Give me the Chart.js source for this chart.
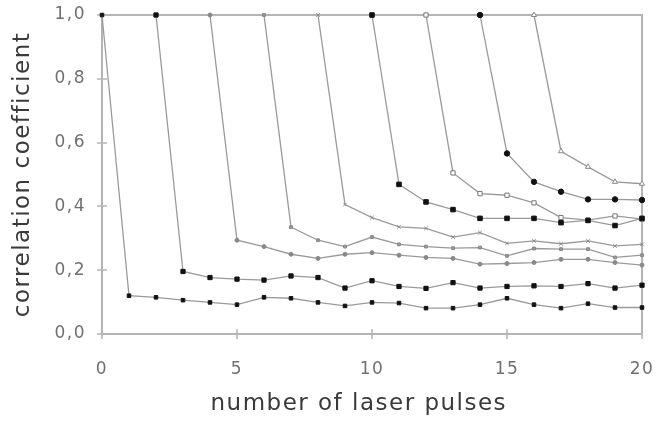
<!DOCTYPE html>
<html>
<head>
<meta charset="utf-8">
<script src="https://cdn.jsdelivr.net/npm/chart.js@4"></script>
<style>
  body { margin: 0; background: #fff; }
  #chart { display: block; }
</style>
</head>
<body>
<canvas id="chart" width="656" height="422"></canvas>
<script>
// x positions (number of laser pulses)
const pulses = [0, 1, 2, 3, 4, 5, 6, 7, 8, 9, 10, 11, 12, 13, 14, 15, 16, 17, 18, 19, 20];
const xTicks = [0, 5, 10, 15, 20];
const yTicks = [0, 0.2, 0.4, 0.6, 0.8, 1.0];

// each series starts at 1,0 at its own pulse number
const starts = [0, 2, 4, 6, 8, 10, 12, 14, 16];
const s0 = [1.0, 0.12, 0.115, 0.106, 0.099, 0.092, 0.115, 0.112, 0.099, 0.088, 0.099, 0.097, 0.081, 0.081, 0.092, 0.112, 0.092, 0.081, 0.095, 0.083, 0.083];
const s1 = [1.0, 0.196, 0.177, 0.172, 0.169, 0.182, 0.177, 0.144, 0.167, 0.149, 0.143, 0.161, 0.144, 0.149, 0.151, 0.149, 0.158, 0.144, 0.153];
const s2 = [1.0, 0.294, 0.274, 0.25, 0.237, 0.25, 0.255, 0.247, 0.24, 0.237, 0.219, 0.221, 0.224, 0.234, 0.234, 0.224, 0.216];
const s3 = [1.0, 0.335, 0.294, 0.274, 0.304, 0.281, 0.274, 0.269, 0.271, 0.245, 0.268, 0.266, 0.266, 0.24, 0.247];
const s4 = [1.0, 0.406, 0.365, 0.336, 0.331, 0.304, 0.318, 0.284, 0.292, 0.283, 0.292, 0.276, 0.281];
const s5 = [1.0, 0.469, 0.414, 0.39, 0.3625, 0.3625, 0.3625, 0.349, 0.356, 0.34, 0.3625];
const s6 = [1.0, 0.505, 0.44, 0.435, 0.411, 0.365, 0.357, 0.37, 0.36];
const s7 = [1.0, 0.566, 0.477, 0.446, 0.422, 0.422, 0.42];
const s8 = [1.0, 0.573, 0.524, 0.477, 0.471];

const series = [s0, s1, s2, s3, s4, s5, s6, s7, s8];

// marker look per series
const markers = [
    { style: "rect", r: 2.5, fill: "#111", border: "#111" },
    { style: "rect", r: 3, fill: "#111", border: "#111" },
    { style: "circle", r: 2, fill: "#888", border: "#888" },
    { style: "rect", r: 2, fill: "#999", border: "#888" },
    { style: "crossRot", r: 2.5, fill: "#888", border: "#888" },
    { style: "rect", r: 3.2, fill: "#111", border: "#111" },
    { style: "rect", r: 3, fill: "#fff", border: "#777" },
    { style: "circle", r: 2.7, fill: "#111", border: "#111" },
    { style: "triangle", r: 3, fill: "#fff", border: "#888" },
];

const datasets = series.map((vals, i) => ({
    data: vals.map((v, k) => ({ x: pulses[starts[i] + k], y: v })),
    borderColor: "#9a9a9a",
    borderWidth: 1.3,
    pointStyle: markers[i].style,
    pointRadius: markers[i].r,
    pointBackgroundColor: markers[i].fill,
    pointBorderColor: markers[i].border,
    pointBorderWidth: 1,
    tension: 0,
    clip: 4,
}));

// wider text, like the original's font
const spacingPlugin = {
    id: "spacing",
    beforeDraw(chart) {
        chart.ctx.letterSpacing = "1.5px";
    },
};

// frame and ticks crossing the axis lines
const framePlugin = {
    id: "frame",
    beforeDatasetsDraw(chart) {
        const { ctx, chartArea: a, scales } = chart;
        ctx.save();
        ctx.strokeStyle = "#b4b4b4";
        ctx.lineWidth = 2;
        ctx.strokeRect(a.left, a.top, a.right - a.left, a.bottom - a.top);
        ctx.lineWidth = 1.5;
        ctx.beginPath();
        xTicks.forEach((t) => {
            const px = Math.round(scales.x.getPixelForValue(t));
            ctx.moveTo(px, a.bottom - 5);
            ctx.lineTo(px, a.bottom + 5);
        });
        yTicks.forEach((t) => {
            const py = Math.round(scales.y.getPixelForValue(t));
            ctx.moveTo(a.left - 5, py);
            ctx.lineTo(a.left + 5, py);
        });
        ctx.stroke();
        ctx.restore();
    },
};

const fmt = (v) => v.toFixed(1).replace(".", ",");

new Chart(document.querySelector("#chart").getContext("2d"), {
    type: "line",
    data: { datasets },
    plugins: [spacingPlugin, framePlugin],
    options: {
        responsive: false,
        animation: false,
        layout: { padding: { top: 15, right: 14, left: 0, bottom: 0 } },
        plugins: { legend: { display: false }, tooltip: { enabled: false } },
        scales: {
            x: {
                type: "linear",
                min: 0,
                max: 20,
                border: { display: false },
                grid: { display: false, drawTicks: false },
                afterBuildTicks: (s) => { s.ticks = xTicks.map((v) => ({ value: v })); },
                afterFit: (s) => { s.height = 88; s.paddingLeft = 0; s.paddingRight = 0; },
                ticks: {
                    padding: 25,
                    color: "#707070",
                    font: { family: "'DejaVu Sans'", size: 17 },
                    maxRotation: 0,
                },
                title: {
                    display: true,
                    text: "number of laser pulses\u00a0\u00a0\u00a0",
                    color: "#3a3a3a",
                    font: { family: "'DejaVu Sans'", size: 23 },
                    padding: { top: 0, bottom: 4 },
                },
            },
            y: {
                min: 0,
                max: 1,
                border: { display: false },
                grid: { display: false, drawTicks: false },
                afterBuildTicks: (s) => { s.ticks = yTicks.map((v) => ({ value: v })); },
                afterFit: (s) => { s.width = 102; s.paddingTop = 0; s.paddingBottom = 0; },
                ticks: {
                    padding: 16,
                    color: "#707070",
                    font: { family: "'DejaVu Sans'", size: 17 },
                    callback: (v) => fmt(v),
                },
                title: {
                    display: true,
                    text: "correlation coefficient",
                    color: "#3a3a3a",
                    font: { family: "'DejaVu Sans'", size: 23 },
                    padding: { top: 9, bottom: 0 },
                },
            },
        },
    },
});
</script>
</body>
</html>
